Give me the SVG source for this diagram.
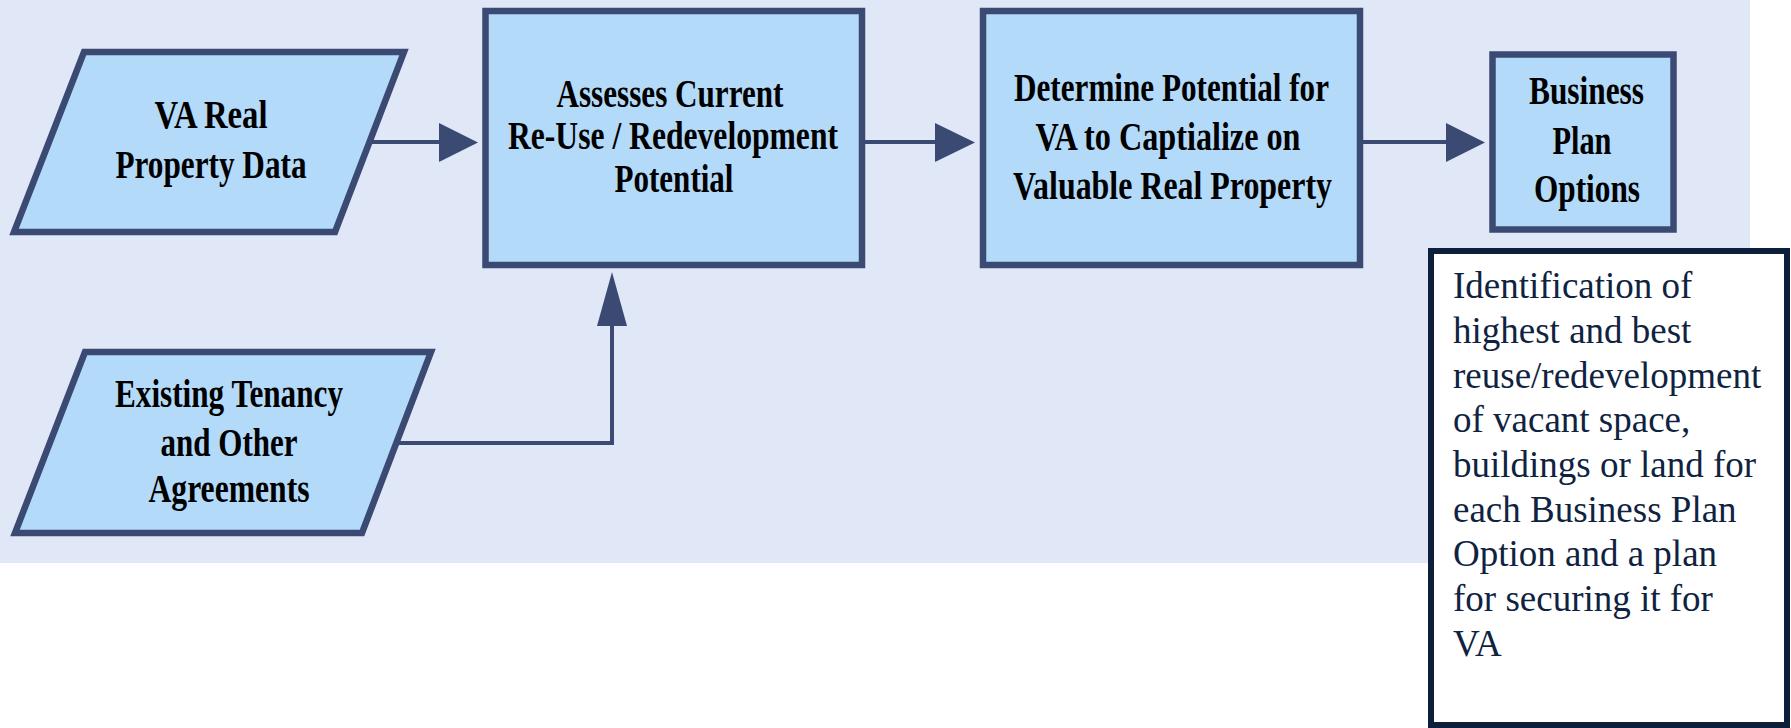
<svg xmlns="http://www.w3.org/2000/svg" width="1791" height="728" viewBox="0 0 1791 728">
<style>
.node{fill:#B3DAF9;stroke:#3A4A73;stroke-width:6.5;stroke-linejoin:miter}
.lbl{font-family:"Liberation Serif","Times New Roman",serif;font-weight:bold;font-size:41px;fill:#000;text-anchor:middle}
.conn{fill:none;stroke:#3A4A73;stroke-width:4}
.head{fill:#3A4A73;stroke:none}
.note{font-family:"Liberation Serif","Times New Roman",serif;font-size:37px;fill:#0F2341}
</style>
<rect x="0" y="0" width="1750" height="563" fill="#E0E7F7"/>
<g id="connectors">
<path class="conn" d="M369,142 H442"/>
<polygon class="head" points="439,123 478,142.5 439,162"/>
<path class="conn" d="M865,142 H938"/>
<polygon class="head" points="935,123 975,142.5 935,162"/>
<path class="conn" d="M1363,142 H1449"/>
<polygon class="head" points="1446,123 1485,142.5 1446,162"/>
<path class="conn" d="M396,443 H612 V322"/>
<polygon class="head" points="597,326 612,272 627,326"/>
</g>
<g id="n1">
<polygon class="node" points="84,52 404,52 335,232 14,232"/>
<text class="lbl"><tspan x="211" y="128" textLength="113" lengthAdjust="spacingAndGlyphs">VA Real</tspan><tspan x="211" y="178" textLength="191" lengthAdjust="spacingAndGlyphs">Property Data</tspan></text>
</g>
<g id="n2">
<polygon class="node" points="85,352 431,352 362,533 15,533"/>
<text class="lbl"><tspan x="229" y="407" textLength="228" lengthAdjust="spacingAndGlyphs">Existing Tenancy</tspan><tspan x="229" y="456" textLength="137" lengthAdjust="spacingAndGlyphs">and Other</tspan><tspan x="229" y="502" textLength="161" lengthAdjust="spacingAndGlyphs">Agreements</tspan></text>
</g>
<g id="n3">
<rect class="node" x="485.5" y="11" width="376.5" height="254"/>
<text class="lbl"><tspan x="670" y="107" textLength="227" lengthAdjust="spacingAndGlyphs">Assesses Current</tspan><tspan x="673" y="149" textLength="330" lengthAdjust="spacingAndGlyphs">Re-Use / Redevelopment</tspan><tspan x="674" y="192" textLength="119" lengthAdjust="spacingAndGlyphs">Potential</tspan></text>
</g>
<g id="n4">
<rect class="node" x="983" y="11" width="377" height="254"/>
<text class="lbl"><tspan x="1171.5" y="101" textLength="315" lengthAdjust="spacingAndGlyphs">Determine Potential for</tspan><tspan x="1168" y="150" textLength="265" lengthAdjust="spacingAndGlyphs">VA to Captialize on</tspan><tspan x="1172.5" y="199" textLength="319" lengthAdjust="spacingAndGlyphs">Valuable Real Property</tspan></text>
</g>
<g id="n5">
<rect class="node" x="1492.5" y="54.5" width="181" height="175"/>
<text class="lbl"><tspan x="1586.5" y="104" textLength="115" lengthAdjust="spacingAndGlyphs">Business</tspan><tspan x="1582" y="154" textLength="59" lengthAdjust="spacingAndGlyphs">Plan</tspan><tspan x="1587" y="202" textLength="106" lengthAdjust="spacingAndGlyphs">Options</tspan></text>
</g>
<g id="n6">
<rect x="1431" y="251" width="356" height="474" fill="#FFFFFF" stroke="#0C1F3B" stroke-width="6"/>
<text class="note"><tspan x="1453" y="298">Identification of</tspan><tspan x="1453" y="343">highest and best</tspan><tspan x="1453" y="388">reuse/redevelopment</tspan><tspan x="1453" y="432">of vacant space,</tspan><tspan x="1453" y="477">buildings or land for</tspan><tspan x="1453" y="522">each Business Plan</tspan><tspan x="1453" y="566">Option and a plan</tspan><tspan x="1453" y="611">for securing it for</tspan><tspan x="1453" y="656">VA</tspan></text>
</g>
</svg>
